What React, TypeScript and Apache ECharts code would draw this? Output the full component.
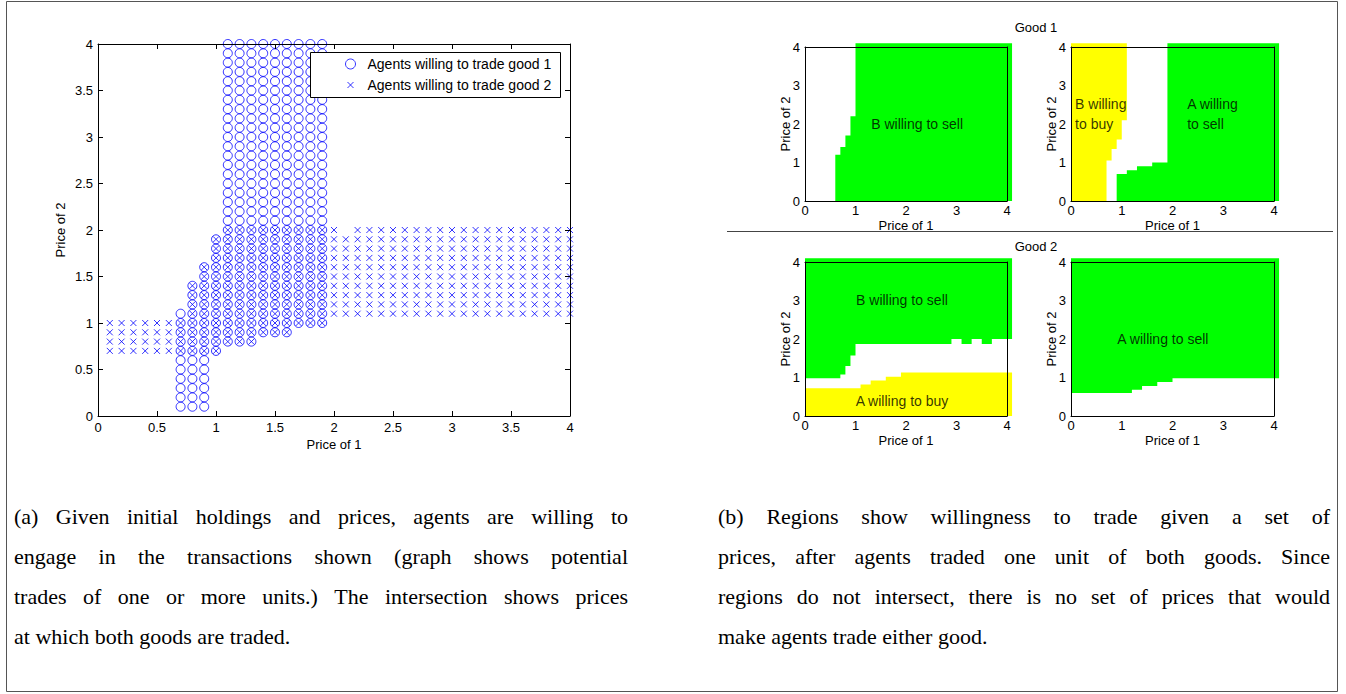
import React, { useEffect, useRef } from 'react';
import * as echarts from 'echarts';

// ---------- Panel (a): agents willing to trade (price grid step 0.1) ----------
const PRICE_STEP = 0.1;
const good1ColX = [0.7, 0.8, 0.9, 1.0, 1.1, 1.2, 1.3, 1.4, 1.5, 1.6, 1.7, 1.8, 1.9];
const good1ColLow = [0.1, 0.1, 0.1, 0.7, 0.8, 0.8, 0.8, 0.9, 0.9, 0.9, 1.0, 1.0, 1.0];
const good1ColHigh = [1.1, 1.4, 1.6, 1.9, 4, 4, 4, 4, 4, 4, 4, 4, 4];

const good2ColX = [
  0.1, 0.2, 0.3, 0.4, 0.5, 0.6, 0.7, 0.8, 0.9, 1.0,
  1.1, 1.2, 1.3, 1.4, 1.5, 1.6, 1.7, 1.8, 1.9, 2.0,
  2.1, 2.2, 2.3, 2.4, 2.5, 2.6, 2.7, 2.8, 2.9, 3.0,
  3.1, 3.2, 3.3, 3.4, 3.5, 3.6, 3.7, 3.8, 3.9, 4.0,
];
const good2ColLow = [
  0.7, 0.7, 0.7, 0.7, 0.7, 0.7, 0.7, 0.7, 0.7, 0.7,
  0.8, 0.8, 0.8, 0.9, 0.9, 0.9, 1.0, 1.0, 1.0, 1.1,
  1.1, 1.1, 1.1, 1.1, 1.1, 1.1, 1.1, 1.1, 1.1, 1.1,
  1.1, 1.1, 1.1, 1.1, 1.1, 1.1, 1.1, 1.1, 1.1, 1.1,
];
const good2ColHigh = [
  1.0, 1.0, 1.0, 1.0, 1.0, 1.0, 1.0, 1.4, 1.6, 1.9,
  2.0, 2.0, 2.0, 2.0, 2.0, 2.0, 2.0, 2.0, 2.0, 2.0,
  1.9, 2.0, 2.0, 2.0, 2.0, 2.0, 2.0, 2.0, 2.0, 2.0,
  2.0, 2.0, 2.0, 2.0, 2.0, 2.0, 2.0, 2.0, 2.0, 2.0,
];

const legendNames = ['Agents willing to trade good 1', 'Agents willing to trade good 2'];

// ---------- Panel (b): regions ----------
// Good 1, left: B willing to sell (min price of 1 per band of price of 2)
const g1BSellBandY = [0, 1.2, 1.4, 1.7, 2.2];
const g1BSellMinX = [0.6, 0.7, 0.8, 0.9, 1.0];
// Good 1, right: B willing to buy (max price of 1 per band of price of 2)
const g1BBuyBandY = [0, 1.05, 1.35, 1.6, 2.1];
const g1BBuyMaxX = [0.7, 0.8, 0.9, 1.0, 1.1];
// Good 1, right: A willing to sell
const g1ASellBandY = [0, 0.7, 0.8, 0.9, 1.0];
const g1ASellMinX = [0.9, 1.1, 1.3, 1.6, 1.9];
// Good 2, left: B willing to sell (min price of 2 per band of price of 1)
const g2BSellBandX = [0, 0.7, 0.8, 0.9, 1.0, 2.9, 3.1, 3.3, 3.5, 3.7];
const g2BSellMinY = [0.98, 1.08, 1.3, 1.57, 1.87, 2.0, 1.87, 2.0, 1.87, 2.0];
// Good 2, left: A willing to buy (max price of 2)
const g2ABuyBandX = [0, 1.1, 1.3, 1.6, 1.9];
const g2ABuyMaxY = [0.72, 0.82, 0.92, 1.02, 1.13];
// Good 2, right: A willing to sell
const g2ASellBandX = [0, 1.2, 1.4, 1.7, 2.0];
const g2ASellMinY = [0.6, 0.68, 0.78, 0.88, 0.98];

const REGION_EDGE = 4.1;

const captionA = [
  '(a)  Given initial holdings and prices, agents are willing to',
  'engage in the transactions shown (graph shows potential',
  'trades of one or more units.) The intersection shows prices',
  'at which both goods are traded.',
];
const captionB = [
  '(b)  Regions show willingness to trade given a set of',
  'prices, after agents traded one unit of both goods.  Since',
  'regions do not intersect, there is no set of prices that would',
  'make agents trade either good.',
];

const SANS = 'Liberation Sans';
const SERIF = 'Liberation Serif';
const CAPTION_SIZE = 22;

function expandColumns(xs: number[], lows: number[], highs: number[]) {
  const pts: number[][] = [];
  xs.forEach((x, i) => {
    const k0 = Math.round(lows[i] / PRICE_STEP);
    const k1 = Math.round(highs[i] / PRICE_STEP);
    for (let k = k0; k <= k1; k++) pts.push([x, +(k * PRICE_STEP).toFixed(1)]);
  });
  return pts;
}

function regionBesideX(bands: number[], bounds: number[], top: number, xOther: number) {
  const pts: number[][] = [[xOther, 0]];
  bands.forEach((y0, i) => {
    const y1 = i + 1 < bands.length ? bands[i + 1] : top;
    pts.push([bounds[i], y0]);
    pts.push([bounds[i], y1]);
  });
  pts.push([xOther, top]);
  return pts;
}

function regionBesideY(bands: number[], bounds: number[], right: number, yOther: number) {
  const pts: number[][] = [[0, yOther]];
  bands.forEach((x0, i) => {
    const x1 = i + 1 < bands.length ? bands[i + 1] : right;
    pts.push([x0, bounds[i]]);
    pts.push([x1, bounds[i]]);
  });
  pts.push([right, yOther]);
  return pts;
}

const grids = [
  { left: 98, top: 44, width: 472, height: 372 },
  { left: 805, top: 47, width: 202, height: 154 },
  { left: 1071, top: 47, width: 203, height: 154 },
  { left: 805, top: 262, width: 202, height: 154 },
  { left: 1071, top: 262, width: 203, height: 154 },
];

function axesFor(g: number) {
  const main = g === 0;
  const line = { show: true, onZero: false, lineStyle: { color: '#000', width: 1 } };
  const tick = main
    ? { show: true, inside: true, length: 5, lineStyle: { color: '#000' } }
    : { show: false };
  const label = { color: '#000', fontSize: 13, fontFamily: SANS };
  const common = {
    type: 'value', gridIndex: g, min: 0, max: 4, interval: main ? 0.5 : 1,
    splitLine: { show: false }, axisLine: line, axisTick: tick, z: 5,
  };
  const nameStyle = { color: '#000', fontSize: 13, fontFamily: SANS };
  const xs = [
    {
      ...common, position: 'bottom', axisLabel: { ...label, margin: main ? 5 : 3 },
      name: 'Price of 1', nameLocation: 'middle', nameGap: main ? 22 : 18,
      nameMoveOverlap: false, nameTextStyle: nameStyle,
    },
    { ...common, position: 'top', axisLabel: { show: false } },
  ];
  const ys = [
    {
      ...common, position: 'left', axisLabel: { ...label, margin: 5 },
      name: 'Price of 2', nameLocation: 'middle', nameGap: main ? 31 : 13,
      nameMoveOverlap: false, nameTextStyle: nameStyle,
    },
    { ...common, position: 'right', axisLabel: { show: false } },
  ];
  return { xs, ys };
}

function regionSeries(g: number, pts: number[][], color: string) {
  return {
    type: 'custom', xAxisIndex: 2 * g, yAxisIndex: 2 * g, clip: false, z: 1,
    silent: true, data: [[0, 0]],
    renderItem: (_p: any, api: any) => ({
      type: 'polygon',
      shape: { points: pts.map((p) => api.coord(p)) },
      style: { fill: color, stroke: null },
    }),
  };
}

function labelSeries(g: number, items: { name: string; value: number[]; align?: string }[]) {
  return {
    type: 'scatter', xAxisIndex: 2 * g, yAxisIndex: 2 * g, symbolSize: 1, silent: true, z: 3,
    itemStyle: { color: 'transparent' },
    data: items.map((it) => ({
      name: it.name, value: it.value,
      label: { align: it.align || 'center' },
    })),
    label: {
      show: true, position: 'inside', formatter: '{b}', color: '#000',
      fontSize: 14, fontFamily: SANS, lineHeight: 20,
    },
  };
}

function captionElements(lines: string[], x0: number, x1: number, yStart: number) {
  const span = document.createElement('span');
  span.style.position = 'absolute';
  span.style.visibility = 'hidden';
  span.style.whiteSpace = 'pre';
  span.style.fontFamily = `"${SERIF}"`;
  span.style.fontSize = `${CAPTION_SIZE}px`;
  document.body.appendChild(span);
  const measure = (t: string) => {
    span.textContent = t;
    return span.getBoundingClientRect().width;
  };
  const els: any[] = [];
  lines.forEach((line, li) => {
    const words = line.split(/\s+/);
    const widths = words.map((w) => measure(w));
    const total = widths.reduce((a, b) => a + b, 0);
    const last = li === lines.length - 1;
    const gap = last ? measure('a b') - measure('ab') : (x1 - x0 - total) / (words.length - 1);
    let x = x0;
    const y = yStart + li * 40;
    words.forEach((w, wi) => {
      els.push({
        type: 'text', x, y, silent: true,
        style: {
          text: w, fontSize: CAPTION_SIZE, fontFamily: SERIF, fill: '#000',
          align: 'left', verticalAlign: 'middle',
        },
      });
      x += widths[wi] + gap;
    });
  });
  document.body.removeChild(span);
  return els;
}

export default function App() {
  const ref = useRef<HTMLDivElement>(null);
  useEffect(() => {
    if (!ref.current) return;
    const chart = echarts.init(ref.current, null, { renderer: 'svg' });
    const xAxis: any[] = [];
    const yAxis: any[] = [];
    grids.forEach((_, g) => {
      const a = axesFor(g);
      xAxis.push(...a.xs);
      yAxis.push(...a.ys);
    });

    const series: any[] = [
      {
        name: legendNames[0], type: 'scatter', xAxisIndex: 0, yAxisIndex: 0, clip: false,
        symbol: 'circle', symbolSize: 9,
        itemStyle: { color: 'transparent', borderColor: '#0000ff', borderWidth: 1 },
        data: expandColumns(good1ColX, good1ColLow, good1ColHigh),
      },
      {
        name: legendNames[1], type: 'scatter', xAxisIndex: 0, yAxisIndex: 0, clip: false,
        symbol: 'path://M0,0L6,6M6,0L0,6', symbolSize: 6,
        itemStyle: { color: 'transparent', borderColor: '#0000ff', borderWidth: 1 },
        data: expandColumns(good2ColX, good2ColLow, good2ColHigh),
      },
      regionSeries(1, regionBesideX(g1BSellBandY, g1BSellMinX, REGION_EDGE, REGION_EDGE), '#00ff00'),
      regionSeries(2, regionBesideX(g1BBuyBandY, g1BBuyMaxX, REGION_EDGE, 0), '#ffff00'),
      regionSeries(2, regionBesideX(g1ASellBandY, g1ASellMinX, REGION_EDGE, REGION_EDGE), '#00ff00'),
      regionSeries(3, regionBesideY(g2BSellBandX, g2BSellMinY, REGION_EDGE, REGION_EDGE), '#00ff00'),
      regionSeries(3, regionBesideY(g2ABuyBandX, g2ABuyMaxY, REGION_EDGE, 0), '#ffff00'),
      regionSeries(4, regionBesideY(g2ASellBandX, g2ASellMinY, REGION_EDGE, REGION_EDGE), '#00ff00'),
      labelSeries(1, [{ name: 'B willing to sell', value: [2.22, 2.0] }]),
      labelSeries(2, [
        { name: 'B willing\nto buy', value: [0.08, 2.25], align: 'left' },
        { name: 'A willing\nto sell', value: [2.29, 2.25], align: 'left' },
      ]),
      labelSeries(3, [
        { name: 'B willing to sell', value: [1.92, 3.01] },
        { name: 'A willing to buy', value: [1.92, 0.39] },
      ]),
      labelSeries(4, [{ name: 'A willing to sell', value: [1.81, 2.0] }]),
    ];

    const legendText = { color: '#000', fontSize: 14, fontFamily: SANS, lineHeight: 16 };
    const option: any = {
      animation: false,
      backgroundColor: '#fff',
      grid: grids.map((g) => ({ ...g, containLabel: false })),
      xAxis,
      yAxis,
      legend: [
        {
          data: [legendNames[0]], left: 345, top: 56, padding: 0, itemWidth: 10, itemHeight: 10,
          selectedMode: false, itemStyle: { borderWidth: 1 },
          textStyle: { ...legendText, padding: [0, 0, 0, 7] },
        },
        {
          data: [legendNames[1]], left: 347, top: 77, padding: 0, itemWidth: 6, itemHeight: 6,
          selectedMode: false, itemStyle: { borderWidth: 1 },
          textStyle: { ...legendText, padding: [0, 0, 0, 9] },
        },
      ],
      graphic: [
        {
          type: 'rect', z: 3, silent: true,
          shape: { x: 310.5, y: 52.5, width: 250, height: 45 },
          style: { fill: '#fff', stroke: '#000', lineWidth: 1 },
        },
        {
          type: 'rect', z: 0, silent: true,
          shape: { x: 6.5, y: 1.5, width: 1331, height: 690 },
          style: { fill: 'none', stroke: '#555', lineWidth: 1 },
        },
        {
          type: 'line', silent: true,
          shape: { x1: 727, y1: 231.5, x2: 1333, y2: 231.5 },
          style: { stroke: '#444', lineWidth: 1 },
        },
        {
          type: 'text', x: 1036, y: 27, silent: true,
          style: { text: 'Good 1', fontSize: 13, fontFamily: SANS, fill: '#000', align: 'center', verticalAlign: 'middle' },
        },
        {
          type: 'text', x: 1036, y: 246, silent: true,
          style: { text: 'Good 2', fontSize: 13, fontFamily: SANS, fill: '#000', align: 'center', verticalAlign: 'middle' },
        },
        ...captionElements(captionA, 14, 628, 516),
        ...captionElements(captionB, 718, 1330, 516),
      ],
      series,
    };
    chart.setOption(option);
    return () => chart.dispose();
  }, []);
  return (
    <div
      ref={ref}
      style={{ position: 'absolute', left: 0, top: 0, width: 1346, height: 694, background: '#fff' }}
    />
  );
}
